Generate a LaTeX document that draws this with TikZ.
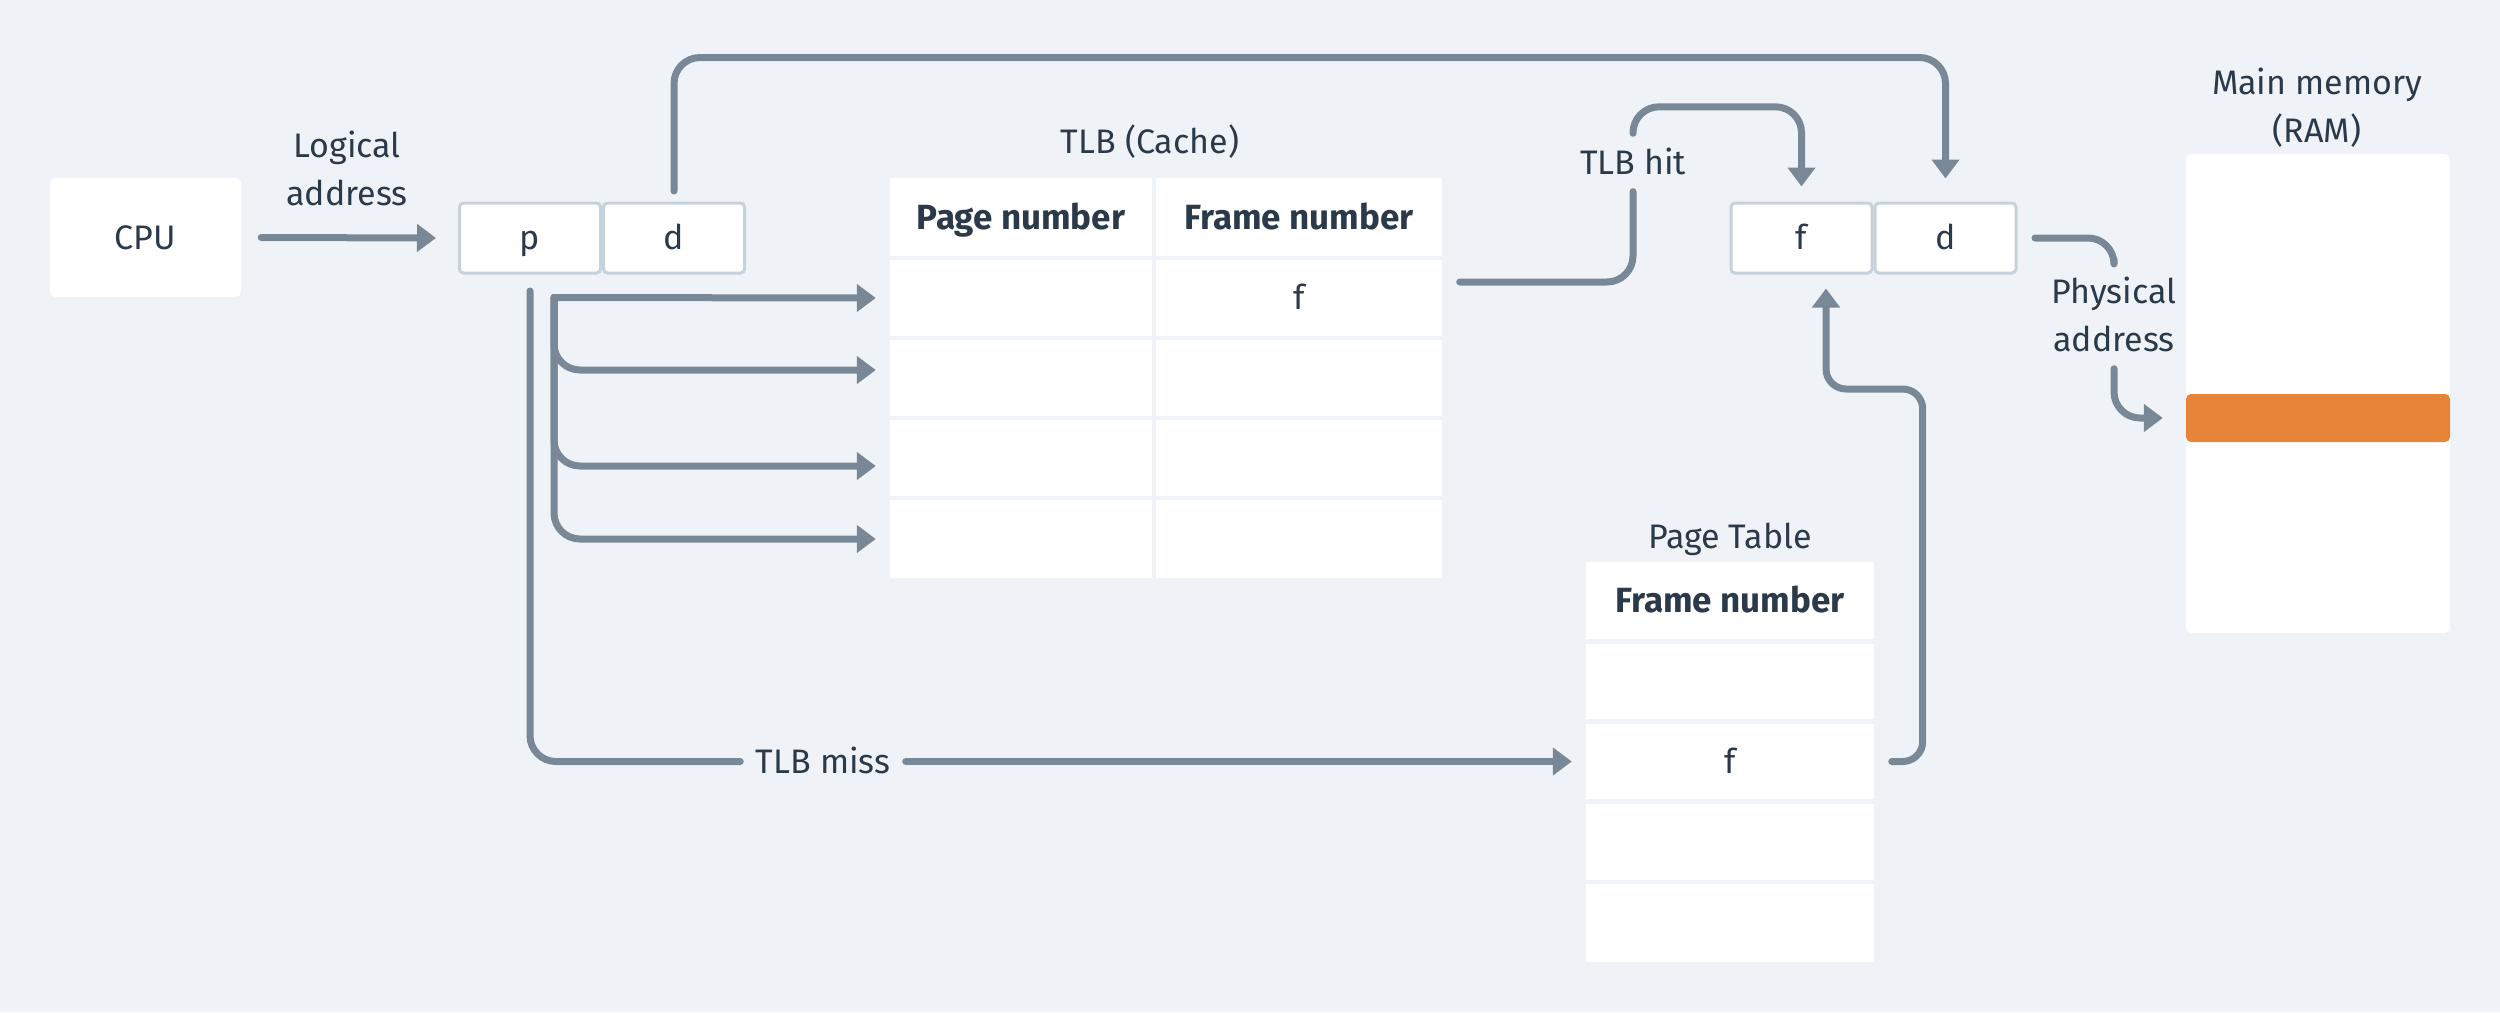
\documentclass[tikz,border=0pt]{standalone}
\usepackage{fontspec}
\setmainfont{Fira Sans}
\usetikzlibrary{arrows.meta}
\definecolor{bgc}{HTML}{EFF3F7}
\definecolor{linec}{HTML}{798897}
\definecolor{txtc}{HTML}{2B3A4A}
\definecolor{bordc}{HTML}{C5D1DB}
\definecolor{orng}{HTML}{E8843A}
\begin{document}
\begin{tikzpicture}[x=1pt,y=-1pt,
  every node/.style={text=txtc, inner sep=0pt, font=\fontsize{34}{48}\selectfont},
  one/.style={text height=23.4pt, text depth=0pt},
  card/.style={fill=white, rounded corners=5pt, one},
  addr/.style={fill=white, draw=bordc, line width=3pt, rounded corners=4pt, minimum width=141pt, minimum height=70pt, one},
  cellA/.style={fill=white, minimum width=262pt, one},
  cellB/.style={fill=white, minimum width=286pt, one},
  cellP/.style={fill=white, minimum width=288pt, one},
  head/.style={font=\fontsize{35}{42}\selectfont\bfseries, text height=24pt, text depth=0pt},
  conn/.style={draw=linec, line width=7pt, line cap=round, line join=round, rounded corners=26pt},
  arr/.style={-{Triangle[length=19pt,width=27pt]}}]
\fill[bgc] (0,0) rectangle (2500,1012);
\useasboundingbox (0,0) rectangle (2500,1012);

% CPU and logical address
\node[card, minimum width=191pt, minimum height=119pt] (cpu) at (145.5,237.5) {CPU};
\node[align=center] (logic) at (347,168) {Logical\\address};
\node[addr] (p) at (530,238) {p};
\node[addr] (d) at (674,238) {d};

% TLB
\node[one] (tlbt) at (1150,142) {TLB (Cache)};
\node[cellA, head, minimum height=78pt] (tha) at (1021,217) {Page number};
\node[cellB, head, minimum height=78pt] (thb) at (1299,217) {Frame number};
\node[cellA, minimum height=76pt] (tp1) at (1021,298) {};
\node[cellB, minimum height=76pt] (tf1) at (1299,298) {f};
\node[cellA, minimum height=76pt] (tp2) at (1021,378) {};
\node[cellB, minimum height=76pt] (tf2) at (1299,378) {};
\node[cellA, minimum height=76pt] (tp3) at (1021,458) {};
\node[cellB, minimum height=76pt] (tf3) at (1299,458) {};
\node[cellA, minimum height=78pt] (tp4) at (1021,539) {};
\node[cellB, minimum height=78pt] (tf4) at (1299,539) {};

% Page table
\node[one] (ptt) at (1730,537) {Page Table};
\node[cellP, head, minimum height=77pt] (ph) at (1730,600.5) {Frame number};
\node[cellP, minimum height=75pt] (pr1) at (1730,681.5) {};
\node[cellP, minimum height=75pt] (pr2) at (1730,761.5) {f};
\node[cellP, minimum height=76pt] (pr3) at (1730,842) {};
\node[cellP, minimum height=78pt] (pr4) at (1730,923) {};

% physical address
\node[addr] (pf) at (1801.5,238) {f};
\node[addr] (pd) at (1945.5,238) {d};

% main memory
\node[align=center] (mmt) at (2317,108) {Main memory\\(RAM)};
\node[card, minimum width=264pt, minimum height=479pt] (ram) at (2318,393.5) {};
\node[fill=orng, rounded corners=5pt, minimum width=264pt, minimum height=48pt] (bar) at (2318,418) {};

% labels on connectors
\node[one, minimum height=58pt] (hit) at (1633,162.5) {TLB hit};
\node[one, minimum width=165pt] (miss) at (823,761.5) {TLB miss};
\node[align=center, minimum height=109pt] (phys) at (2114,314) {Physical\\address};

% connectors
\draw[conn, arr] ([xshift=20pt]cpu.east) -- ([xshift=-22pt]p.west);
\draw[conn, arr] ([yshift=10.5pt]d.north) -- ++(0,-133.5) -| ([yshift=23pt]pd.north);
\coordinate (br) at ([xshift=24pt,yshift=-23pt]p.south);
\draw[conn, arr] (br) -- ([xshift=-14pt]tp1.west);
\draw[conn, arr] (br) |- ([xshift=-14pt,yshift=8pt]tp2.west);
\draw[conn, arr] (br) |- ([xshift=-14pt,yshift=-8pt]tp3.west);
\draw[conn, arr] (br) |- ([xshift=-14pt]tp4.west);
\draw[conn] ([yshift=-16.5pt]p.south) |- (miss.west);
\draw[conn, arr] (miss.east) -- ([xshift=-14pt]pr2.west);
\draw[conn] ([xshift=17.5pt,yshift=16pt]tf1.east) -| (hit.south);
\draw[conn, arr] (hit.north) -- ++(0,-26.5) -| ([yshift=15pt]pf.north);
\draw[conn, arr, rounded corners=20pt] ([xshift=17.5pt]pr2.east) -- ++(31,0) -- ++(0,-372.5) -| ([xshift=24.5pt,yshift=-14pt]pf.south);
\draw[conn] ([xshift=17.5pt]pd.east) -| (phys.north);
\draw[conn, arr] (phys.south) |- ([xshift=-23pt]bar.west);
\end{tikzpicture}
\end{document}
